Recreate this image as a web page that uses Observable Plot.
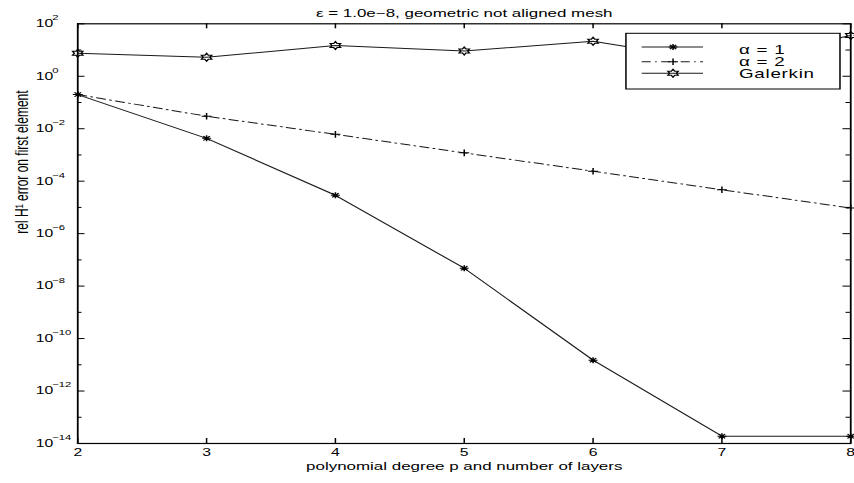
<!DOCTYPE html>
<html>
<head>
<meta charset="utf-8">
<script src="https://cdn.jsdelivr.net/npm/d3@7"></script>
<script src="https://cdn.jsdelivr.net/npm/@observablehq/plot@0.6"></script>
<style>
  html, body { margin: 0; padding: 0; background: #fff; }
  #chart { width: 854px; height: 483px; overflow: hidden; }
  /* the figure is drawn narrow and widened horizontally, like the exported MATLAB figure */
  #chart svg { display: block; transform: scale(1.5, 1); transform-origin: 0 0; }
</style>
</head>
<body>
<div id="chart"></div>
<script>
// polynomial degree p (= number of layers)
const degrees = [2, 3, 4, 5, 6, 7, 8];
// relative H1 error on the first element
const alpha1   = [0.2, 4.3e-3, 2.9e-5, 4.8e-8, 1.5e-11, 1.9e-14, 1.9e-14];
const alpha2   = [0.2, 3.0e-2, 6.1e-3, 1.2e-3, 2.4e-4, 4.7e-5, 9.5e-6];
const galerkin = [7.6, 5.3, 14.9, 9.1, 21.7, 3.5, 35.8];
const seriesNames = ["α = 1", "α = 2", "Galerkin"];

const xTicks = [2, 3, 4, 5, 6, 7, 8];
const yLabelExponents = [2, 0, -2, -4, -6, -8, -10, -12, -14];
const yMinorExponents = [1, -1, -3, -5, -7, -9, -11, -13];

const titleText = "ε = 1.0e−8, geometric not aligned mesh";
const xLabel = "polynomial degree p and number of layers";
const yLabel = "rel H¹ error on first element";

// MATLAB-style markers
const asterisk = {
  draw(ctx, size) {
    const r = Math.sqrt(size / Math.PI), d = r * 0.72;
    ctx.moveTo(-r, 0); ctx.lineTo(r, 0);
    ctx.moveTo(0, -r); ctx.lineTo(0, r);
    ctx.moveTo(-d, -d); ctx.lineTo(d, d);
    ctx.moveTo(-d, d); ctx.lineTo(d, -d);
  }
};
const plus = {
  draw(ctx, size) {
    const r = Math.sqrt(size / Math.PI);
    ctx.moveTo(-r, 0); ctx.lineTo(r, 0);
    ctx.moveTo(0, -r); ctx.lineTo(0, r);
  }
};
const hexagram = {
  draw(ctx, size) {
    const R = Math.sqrt(size / Math.PI), ri = R / Math.sqrt(3);
    for (let i = 0; i < 12; i++) {
      const a = -Math.PI / 2 + i * Math.PI / 6, rr = i % 2 ? ri : R;
      const px = rr * Math.cos(a), py = rr * Math.sin(a);
      if (i) ctx.lineTo(px, py); else ctx.moveTo(px, py);
    }
    ctx.closePath();
  }
};

const seriesStyle = [
  {dash: null, symbol: asterisk, r: 3},
  {dash: "6,3,1,3", symbol: plus, r: 3.3},
  {dash: null, symbol: hexagram, r: 4}
];
const seriesValues = [alpha1, alpha2, galerkin];
const rows = seriesValues.map((vals) => degrees.map((p, i) => ({p, v: vals[i]})));

// layout (drawing units before the horizontal widening)
const W = 854 / 1.5, H = 483;
const mL = 77 / 1.5, mR = W - 850 / 1.5, mT = 23.3, mB = 40;
const frameW = W - mL - mR, frameH = H - mT - mB;
const ink = "#000";

const marks = [];
seriesValues.forEach((_, s) => {
  marks.push(Plot.line(rows[s], {
    x: "p", y: "v", stroke: "#1a1a1a", strokeWidth: 1,
    strokeDasharray: seriesStyle[s].dash
  }));
  marks.push(Plot.dot(rows[s], {
    x: "p", y: "v", symbol: seriesStyle[s].symbol, r: seriesStyle[s].r,
    stroke: ink, fill: "none", strokeWidth: 1
  }));
});

marks.push(
  // inward ticks on all four sides
  Plot.tickY(yLabelExponents, {y: (k) => 10 ** k, insetRight: frameW - 5, stroke: ink}),
  Plot.tickY(yLabelExponents, {y: (k) => 10 ** k, insetLeft: frameW - 5, stroke: ink}),
  Plot.tickY(yMinorExponents, {y: (k) => 10 ** k, insetRight: frameW - 3, stroke: ink}),
  Plot.tickY(yMinorExponents, {y: (k) => 10 ** k, insetLeft: frameW - 3, stroke: ink}),
  Plot.tickX(xTicks, {x: (d) => d, insetBottom: frameH - 5, stroke: ink}),
  Plot.tickX(xTicks, {x: (d) => d, insetTop: frameH - 5, stroke: ink}),
  Plot.frame({stroke: ink, strokeWidth: 1.2}),
  // y tick labels: "10" with a raised exponent
  Plot.text(yLabelExponents, {
    y: (k) => 10 ** k, text: () => "10", frameAnchor: "left",
    textAnchor: "start", dx: -28, fontSize: 10.5, fill: ink
  }),
  Plot.text(yLabelExponents, {
    y: (k) => 10 ** k, text: (k) => (k < 0 ? "−" + (-k) : String(k)), frameAnchor: "left",
    textAnchor: "start", dx: -17, dy: -6, fontSize: 7.5, fill: ink
  }),
  // x tick labels
  Plot.text(xTicks, {
    x: (d) => d, text: (d) => String(d), frameAnchor: "bottom",
    dy: 13, fontSize: 10.5, fill: ink
  }),
  Plot.text([xLabel], {frameAnchor: "bottom", dy: 26.5, fontSize: 11.3, fill: ink}),
  Plot.text([yLabel], {frameAnchor: "left", rotate: -90, dx: -37.3, fontSize: 12, fill: ink}),
  Plot.text([titleText], {frameAnchor: "top", dy: -15, fontSize: 11.3, fill: ink})
);

const svg = Plot.plot({
  width: W,
  height: H,
  marginLeft: mL,
  marginRight: mR,
  marginTop: mT,
  marginBottom: mB,
  style: {fontFamily: "'Liberation Sans', Arial, sans-serif", background: "#fff", overflow: "visible"},
  x: {domain: [2, 8], axis: null},
  y: {type: "log", domain: [1e-14, 1e2], axis: null},
  marks
});

// legend box in the upper right of the axes
const legend = d3.select(svg).append("g").attr("class", "legend");
const box = {x: 417.3, y: 33.3, w: 142.7, h: 55.7};
legend.append("rect")
  .attr("x", box.x).attr("y", box.y).attr("width", box.w).attr("height", box.h)
  .attr("fill", "#fff").attr("stroke", ink).attr("stroke-width", 1);
const rowLineY = [47, 61.7, 73.3];
const rowTextY = [49.8, 61.9, 74];
seriesNames.forEach((name, s) => {
  const st = seriesStyle[s];
  legend.append("line")
    .attr("x1", 427.8).attr("x2", 468.7)
    .attr("y1", rowLineY[s]).attr("y2", rowLineY[s])
    .attr("stroke", "#1a1a1a").attr("stroke-width", 1)
    .attr("stroke-dasharray", st.dash);
  legend.append("path")
    .attr("transform", `translate(448.7,${rowLineY[s]})`)
    .attr("d", d3.symbol(st.symbol, st.r * st.r * Math.PI)())
    .attr("fill", "none").attr("stroke", ink).attr("stroke-width", 1);
  legend.append("text")
    .attr("x", 492.7).attr("y", rowTextY[s])
    .attr("dy", "0.35em")
    .attr("text-anchor", "start")
    .attr("font-size", 12.5)
    .attr("letter-spacing", 0.5)
    .attr("fill", ink)
    .text(name);
});

document.getElementById("chart").appendChild(svg);
</script>
</body>
</html>
